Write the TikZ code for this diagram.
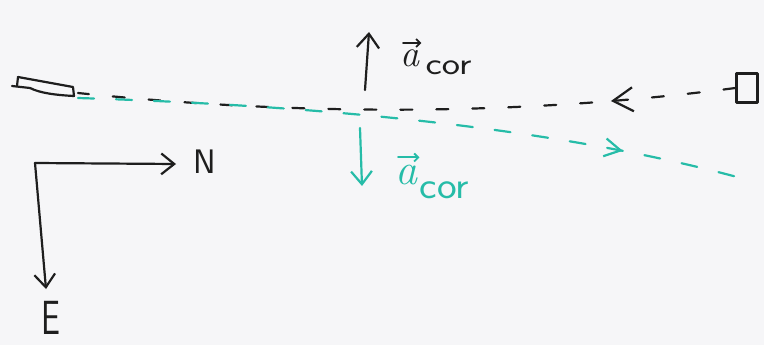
\documentclass[tikz,border=0pt]{standalone}
\usetikzlibrary{arrows.meta,decorations.markings}
\definecolor{board}{RGB}{246,246,248}
\definecolor{inkblack}{RGB}{30,30,30}
\definecolor{inkcyan}{RGB}{38,188,168}
\tikzset{
  ink/.style={line width=2.2pt, line cap=round, line join=round},
  thinink/.style={line width=1.8pt, line cap=round, line join=round},
  blk/.style={color=inkblack},
  cy/.style={color=inkcyan},
  barb/.style={-{Straight Barb[length=#1, width=1.6*#1, line width=2.2pt]}},
  vecbarb/.style={-{Straight Barb[length=4pt, width=8pt, line width=1.8pt]}},
  lbl/.style={inner sep=0pt, anchor=base west},
}
\begin{document}
\begin{tikzpicture}[x=1pt,y=-1pt]
\fill[board] (0,0) rectangle (764,345);
\useasboundingbox (0,0) rectangle (764,345);

% cannon on the left
\draw[blk,ink] (18,77) -- (73,87) -- (74,96) .. controls (55,95) and (40,93) .. (30,88) -- (12,86);
\draw[blk,ink] (18,77) -- (17,86);
\coordinate (muzzle) at (78,93);
\coordinate (muzzle2) at (78,98);

% target box on the right
\node[blk,ink,draw,minimum width=21pt,minimum height=29pt,inner sep=0pt] (target) at (747,88) {};
\coordinate (cyend) at (748,180);

% black dashed trajectory (right to left)
\draw[blk,ink,dash pattern=on 12pt off 24pt,postaction=decorate,
  decoration={markings, mark=at position 0.19 with {\arrow{Straight Barb[length=20pt,width=24pt,line width=2.2pt]}}}]
  (target.west) .. controls (520,116) and (300,116) .. (muzzle);

% cyan dashed trajectory (left to right)
\draw[cy,ink,dash pattern=on 16pt off 22pt,postaction=decorate,
  decoration={markings, mark=at position 0.81 with {\arrow{Straight Barb[length=16pt,width=18pt,line width=2.2pt]}}}]
  (muzzle2) .. controls (300,105) and (550,125) .. (cyend);

% Coriolis acceleration arrows
\coordinate (upfrom) at (365,90);
\coordinate (upto) at (369,32);
\draw[blk,ink,barb=14pt] (upfrom) -- (upto);
\node[blk,lbl,font=\fontsize{38}{40}\selectfont\itshape] (aup) at (400,67) {a};
\node[blk,lbl,xscale=1.25,font=\sffamily\fontsize{31}{34}\selectfont] (corup) at ([xshift=6pt,yshift=-8pt]aup.base east) {cor};
\draw[blk,thinink,vecbarb] ([xshift=3pt,yshift=7pt]aup.north west) -- ([xshift=2pt,yshift=7pt]aup.north east);

\coordinate (dnfrom) at (360,128);
\coordinate (dnto) at (362,186);
\draw[cy,ink,barb=13pt] (dnfrom) -- (dnto);
\node[cy,lbl,font=\fontsize{44}{46}\selectfont\itshape] (adn) at (395,184) {a};
\node[cy,lbl,xscale=1.1,font=\sffamily\fontsize{38}{40}\selectfont] (cordn) at ([xshift=2pt,yshift=-14pt]adn.base east) {cor};
\draw[cy,thinink,vecbarb] ([xshift=3pt,yshift=7pt]adn.north west) -- ([xshift=2pt,yshift=7pt]adn.north east);

% N-E axes
\coordinate (origin) at (35,163);
\node[blk,inner sep=0pt,font=\sffamily\fontsize{34}{34}\selectfont] (N) at (205,162) {N};
\node[blk,inner sep=0pt,xscale=0.7,font=\sffamily\fontsize{48}{48}\selectfont] (E) at (51,318) {E};
\draw[blk,ink,barb=13pt] (origin) -- (176,164);
\draw[blk,ink,barb=13pt] (origin) -- (46,289);
\end{tikzpicture}
\end{document}
